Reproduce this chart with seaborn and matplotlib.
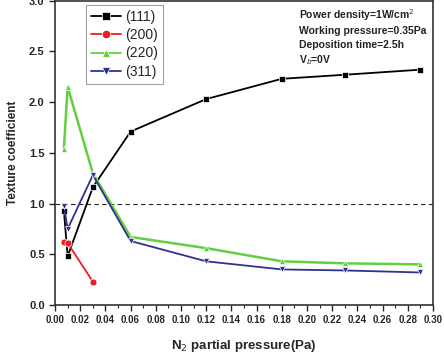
import matplotlib
matplotlib.use("Agg")
import matplotlib.pyplot as plt
import seaborn as sns
import pandas as pd
from matplotlib.ticker import MultipleLocator, FormatStrFormatter

sns.set_style("ticks")
plt.rcParams['font.family'] = ['Liberation Sans', 'DejaVu Sans']

x_111 = [0.007, 0.01, 0.03, 0.06, 0.12, 0.18, 0.23, 0.29]
y_111 = [0.93, 0.48, 1.16, 1.71, 2.03, 2.23, 2.27, 2.32]
x_200 = [0.007, 0.01, 0.03]
y_200 = [0.62, 0.61, 0.23]
x_220 = [0.007, 0.01, 0.03, 0.06, 0.12, 0.18, 0.23, 0.29]
y_220 = [1.54, 2.15, 1.30, 0.67, 0.56, 0.43, 0.41, 0.40]
x_311 = [0.007, 0.01, 0.03, 0.06, 0.12, 0.18, 0.23, 0.29]
y_311 = [0.98, 0.75, 1.28, 0.63, 0.43, 0.35, 0.34, 0.32]
labels = ["(111)", "(200)", "(220)", "(311)"]

frames = []
for lab, xs, ys in zip(labels, [x_111, x_200, x_220, x_311], [y_111, y_200, y_220, y_311]):
    frames.append(pd.DataFrame({"x": xs, "y": ys, "plane": lab}))
df = pd.concat(frames, ignore_index=True)

colors = {"(111)": "#000000", "(200)": "#ee1c24", "(220)": "#62cf40", "(311)": "#2e3192"}
markers = {"(111)": "s", "(200)": "o", "(220)": "^", "(311)": "v"}

fig = plt.figure(figsize=(4.44, 3.63), dpi=100)
ax = fig.add_axes([0.124, 0.160, 0.851, 0.838])

sns.lineplot(data=df, x="x", y="y", hue="plane", style="plane", markers=markers,
             dashes=False, palette=colors, hue_order=labels, style_order=labels,
             markersize=5, markeredgewidth=0.5, linewidth=1.3, ax=ax, legend=True)
for line, lab in zip(ax.lines, labels):
    if lab == "(220)":
        line.set_linewidth(1.8)

ax.axhline(1.0, color="#222222", linestyle=(0, (4, 3)), linewidth=0.8, zorder=0)

ax.set_xlim(0.0, 0.30)
ax.set_ylim(0.0, 3.0)
ax.xaxis.set_major_locator(MultipleLocator(0.02))
ax.xaxis.set_minor_locator(MultipleLocator(0.01))
ax.yaxis.set_major_locator(MultipleLocator(0.5))
ax.xaxis.set_major_formatter(FormatStrFormatter("%.2f"))
ax.yaxis.set_major_formatter(FormatStrFormatter("%.1f"))
ax.tick_params(axis="both", which="major", length=4, width=1.0, direction="out")
ax.tick_params(axis="x", which="major", labelsize=7)
ax.tick_params(axis="y", which="major", labelsize=8)
ax.tick_params(axis="x", which="minor", length=2, width=0.8, direction="out")
for lbl in ax.get_xticklabels() + ax.get_yticklabels():
    lbl.set_fontweight("bold")
for s in ax.spines.values():
    s.set_linewidth(1.2)
    s.set_color("#333333")

ax.set_xlabel("N$_2$ partial pressure(Pa)", fontsize=9.5, fontweight="bold", labelpad=9)
ax.set_ylabel("Texture coefficient", fontsize=8.5, fontweight="bold", labelpad=7)

leg = ax.legend(loc="upper left", bbox_to_anchor=(0.082, 0.985), borderaxespad=0,
                fontsize=10, frameon=True, fancybox=False, edgecolor="#888888",
                handlelength=2.2, handletextpad=0.3, borderpad=0.35, labelspacing=0.3)
leg.get_frame().set_linewidth(0.8)
for h in leg.legend_handles:
    h.set_markersize(6)

ax.text(0.645, 0.978, "Power density=1W/cm$^2$\nWorking pressure=0.35Pa\nDeposition time=2.5h\nV$_b$=0V",
        transform=ax.transAxes, fontsize=7.5, fontweight="bold", va="top", ha="left",
        linespacing=1.4, color="#222222")

fig.savefig("out.png", dpi=100)
